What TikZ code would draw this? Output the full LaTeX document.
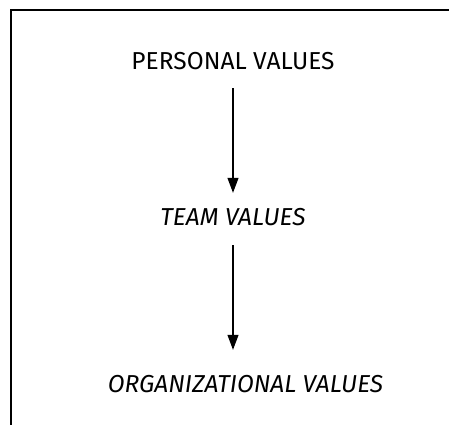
\documentclass[tikz,border=0pt]{standalone}
\usepackage{fontspec}
\setmainfont{Fira Sans}
\usepackage{tikz}
\usetikzlibrary{arrows.meta}

\tikzset{
  value/.style={inner sep=0pt, text height=17pt, text depth=0pt, font=\fontsize{24.5}{24.5}\selectfont},
  flow/.style={-{Triangle[length=15pt,width=11pt]}, line width=1.1pt}
}

\begin{document}
\begin{tikzpicture}[x=1pt,y=1pt]
  \clip (0,0) rectangle (449,-424);
  \draw[line width=2.5pt] (11,-10) rectangle (470,-450);
  \node[value] (pv) at (233,-61) {PERSONAL VALUES};
  \node[value] (tv) at (233,-217) {\itshape TEAM VALUES};
  \node[value] (ov) at (245.5,-383.5) {\itshape ORGANIZATIONAL VALUES};
  \path[flow]
  (pv.south) edge [shorten <=18.5pt, shorten >=15.5pt] (tv.north)
  ;
  \path[flow]
  (tv.south) edge [shorten <=19.5pt, shorten >=25pt] (tv.south |- ov.north)
  ;
\end{tikzpicture}
\end{document}
